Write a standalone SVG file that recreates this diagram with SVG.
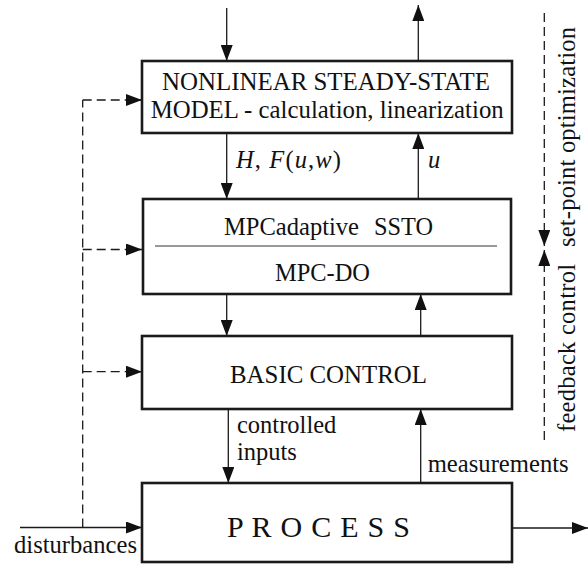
<svg xmlns="http://www.w3.org/2000/svg" width="588" height="565" viewBox="0 0 588 565">
<defs>
<marker id="ah" viewBox="0 0 16 12" markerWidth="16" markerHeight="12" refX="16" refY="6" orient="auto" markerUnits="userSpaceOnUse">
<path d="M0,0 L16,6 L0,12 z" fill="#111"/>
</marker>
<style>
.box{fill:#fff;stroke:#1a1a1a;stroke-width:2.6}
.ar{fill:none;stroke:#1a1a1a;stroke-width:1.3;marker-end:url(#ah)}
.da{fill:none;stroke:#1a1a1a;stroke-width:1.3;stroke-dasharray:9 5}
.dam{fill:none;stroke:#1a1a1a;stroke-width:1.3;stroke-dasharray:9 5;marker-end:url(#ah)}
text{font-family:'Liberation Serif','Times New Roman','DejaVu Serif',serif;font-size:24.5px;fill:#111}
.it{font-style:italic}
</style>
</defs>
<rect width="588" height="565" fill="#fff"/>
<g id="connectors">
<line class="ar" x1="226.7" y1="8" x2="226.7" y2="61"/>
<line class="ar" x1="418.3" y1="61" x2="418.3" y2="5"/>
<line class="ar" x1="226.7" y1="133" x2="226.7" y2="199"/>
<line class="ar" x1="418.3" y1="199" x2="418.3" y2="133"/>
<line class="ar" x1="226.7" y1="294" x2="226.7" y2="336"/>
<line class="ar" x1="420.7" y1="336" x2="420.7" y2="294"/>
<line class="ar" x1="228.3" y1="409" x2="228.3" y2="483"/>
<line class="ar" x1="420.7" y1="483" x2="420.7" y2="409"/>
<line class="ar" x1="512" y1="528" x2="588" y2="528"/>
<line class="ar" x1="20" y1="527.5" x2="142" y2="527.5"/>
<line class="da" x1="82.7" y1="527.5" x2="82.7" y2="100"/>
<line class="dam" x1="82.7" y1="100" x2="142" y2="100"/>
<line class="dam" x1="82.7" y1="249.5" x2="142" y2="249.5"/>
<line class="dam" x1="82.7" y1="371.7" x2="142" y2="371.7"/>
<line class="dam" x1="544.3" y1="13" x2="544.3" y2="246"/>
<line class="dam" x1="544.3" y1="440" x2="544.3" y2="250"/>
</g>
<g id="model">
<rect class="box" x="142" y="61" width="370" height="72"/>
<text x="162" y="90" textLength="328" lengthAdjust="spacingAndGlyphs">NONLINEAR STEADY-STATE</text>
<text x="150.7" y="118" textLength="353" lengthAdjust="spacingAndGlyphs">MODEL - calculation, linearization</text>
</g>
<g id="mpc">
<rect class="box" x="143" y="199" width="368" height="95"/>
<text x="224" y="235" textLength="135" lengthAdjust="spacingAndGlyphs">MPCadaptive</text>
<text x="374" y="235" textLength="59" lengthAdjust="spacingAndGlyphs">SSTO</text>
<line x1="155" y1="246" x2="497" y2="246" stroke="#333" stroke-width="1.2"/>
<text x="275" y="281" textLength="95" lengthAdjust="spacingAndGlyphs">MPC-DO</text>
</g>
<g id="basic">
<rect class="box" x="142" y="336" width="370" height="73"/>
<text x="230" y="383.3" textLength="197" lengthAdjust="spacingAndGlyphs">BASIC CONTROL</text>
</g>
<g id="process">
<rect class="box" x="142" y="483" width="370" height="79"/>
<text x="227" y="536.7" style="font-size:30px" textLength="183" lengthAdjust="spacing">P R O C E S S</text>
</g>
<g id="labels">
<text x="236" y="168.3" textLength="105" lengthAdjust="spacing"><tspan class="it">H</tspan>, <tspan class="it">F</tspan>(<tspan class="it">u</tspan>,<tspan class="it">w</tspan>)</text>
<text x="428" y="168.3" class="it">u</text>
<text x="237" y="433">controlled</text>
<text x="237" y="460">inputs</text>
<text x="427.7" y="471.7" textLength="141" lengthAdjust="spacingAndGlyphs">measurements</text>
<text x="14" y="553" textLength="123" lengthAdjust="spacingAndGlyphs">disturbances</text>
<text transform="translate(575,247) rotate(-90)" textLength="220" lengthAdjust="spacing">set-point optimization</text>
<text transform="translate(575,432) rotate(-90)" textLength="168" lengthAdjust="spacing">feedback control</text>
</g>
</svg>
